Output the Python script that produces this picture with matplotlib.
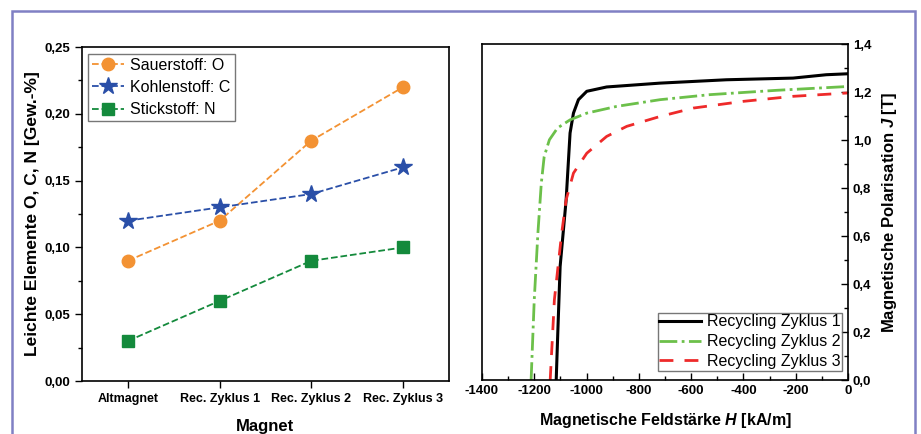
import numpy as np
import matplotlib
matplotlib.use("Agg")
import matplotlib.pyplot as plt
from matplotlib.ticker import FuncFormatter, MultipleLocator
from matplotlib.patches import Rectangle

plt.rcParams['font.family'] = ['Liberation Sans', 'DejaVu Sans']
plt.rcParams['mathtext.fontset'] = 'custom'
plt.rcParams['mathtext.it'] = 'Liberation Sans:italic:bold'
plt.rcParams['mathtext.rm'] = 'Liberation Sans:bold'
plt.rcParams['axes.unicode_minus'] = False

# ---- left panel data ----
magnets = ["Altmagnet", "Rec. Zyklus 1", "Rec. Zyklus 2", "Rec. Zyklus 3"]
sauerstoff = [0.09, 0.12, 0.18, 0.22]
kohlenstoff = [0.12, 0.13, 0.14, 0.16]
stickstoff = [0.03, 0.06, 0.09, 0.10]

# ---- right panel data (H in kA/m, J in T) ----
h_zyk1 = [-1116, -1110, -1101, -1078, -1063, -1050, -1031, -999, -923, -719, -465, -210, -83, 0]
j_zyk1 = [0.0, 0.195, 0.473, 0.751, 1.029, 1.112, 1.168, 1.203, 1.221, 1.237, 1.251, 1.258, 1.272, 1.276]

h_zyk2 = [-1212, -1200, -1186, -1173, -1162, -1142, -1111, -1063, -999, -885, -719, -528, -274, 0]
j_zyk2 = [0.0, 0.334, 0.612, 0.820, 0.931, 1.001, 1.050, 1.084, 1.112, 1.140, 1.168, 1.189, 1.207, 1.223]

h_zyk3 = [-1139, -1123, -1095, -1078, -1050, -999, -923, -846, -719, -592, -401, -210, 0]
j_zyk3 = [0.0, 0.334, 0.612, 0.751, 0.862, 0.945, 1.015, 1.057, 1.098, 1.133, 1.161, 1.182, 1.196]

comma = FuncFormatter(lambda v, p: f"{v:.2f}".replace(".", ","))
comma1 = FuncFormatter(lambda v, p: f"{v:.1f}".replace(".", ","))

fig = plt.figure(figsize=(9.21, 4.34), dpi=100)

# light frame around the whole figure
fig.patches.append(Rectangle((12 / 921, -0.05), 903 / 921, 1.05 - 11 / 434,
                             transform=fig.transFigure, fill=False,
                             edgecolor="#8080c4", linewidth=1.8))

# ============ left: light elements ============
ax1 = fig.add_axes([0.089, 0.122, 0.3985, 0.7696])
x = np.arange(len(magnets))
ax1.plot(x, sauerstoff, "--o", color="#f39233", ms=9, lw=1.3, label="Sauerstoff: O")
ax1.plot(x, kohlenstoff, "--*", color="#2a4fa8", ms=13, lw=1.3, label="Kohlenstoff: C")
ax1.plot(x, stickstoff, "--s", color="#148a3c", ms=8, lw=1.3, label="Stickstoff: N")
ax1.set_xlim(-0.5, 3.5)
ax1.set_ylim(0, 0.25)
ax1.set_xticks(x)
ax1.set_xticklabels(magnets, fontweight="bold", fontsize=9)
ax1.yaxis.set_major_locator(MultipleLocator(0.05))
ax1.yaxis.set_minor_locator(MultipleLocator(0.025))
ax1.yaxis.set_major_formatter(comma)
for lab in ax1.get_yticklabels():
    lab.set_fontweight("bold")
    lab.set_fontsize(9.5)
ax1.tick_params(direction="out", length=5, width=1)
ax1.tick_params(which="minor", direction="out", length=3, width=1)
ax1.set_xlabel("Magnet", fontweight="bold", fontsize=12, labelpad=10)
ax1.set_ylabel("Leichte Elemente O, C, N [Gew.-%]", fontweight="bold", fontsize=12.5, labelpad=3)
for s in ax1.spines.values():
    s.set_linewidth(1.2)
leg1 = ax1.legend(loc="upper left", fontsize=11.5, fancybox=False, edgecolor="#555555",
                  handlelength=2.0, borderpad=0.25, labelspacing=0.45, handletextpad=0.4,
                  borderaxespad=0.0, bbox_to_anchor=(0.016, 0.98))
leg1.get_frame().set_linewidth(1.0)

# ============ right: demagnetisation curves ============
ax2 = fig.add_axes([0.5233, 0.1244, 0.3974, 0.7742])
ax2.plot(h_zyk1, j_zyk1, "-", color="black", lw=2.2, label="Recycling Zyklus 1")
ax2.plot(h_zyk2, j_zyk2, "-.", color="#6cc04a", lw=2.0, label="Recycling Zyklus 2")
ax2.plot(h_zyk3, j_zyk3, "--", color="#ee2a2a", lw=2.0, dashes=(5, 4), label="Recycling Zyklus 3")
ax2.set_xlim(-1400, 0)
ax2.set_ylim(0, 1.4)
ax2.xaxis.set_major_locator(MultipleLocator(200))
ax2.xaxis.set_minor_locator(MultipleLocator(100))
ax2.yaxis.set_major_locator(MultipleLocator(0.2))
ax2.yaxis.set_minor_locator(MultipleLocator(0.1))
ax2.yaxis.set_major_formatter(comma1)
ax2.yaxis.tick_right()
ax2.yaxis.set_label_position("right")
ax2.tick_params(direction="in", length=5, width=1, labelsize=9.5)
ax2.tick_params(which="minor", direction="in", length=3, width=1)
for lab in ax2.get_xticklabels() + ax2.get_yticklabels():
    lab.set_fontweight("bold")
ax2.set_xlabel("Magnetische Feldstärke $H$ [kA/m]", fontweight="bold", fontsize=11.5, labelpad=10)
ax2.set_ylabel("Magnetische Polarisation $J$ [T]", fontweight="bold", fontsize=12, labelpad=6)
for s in ax2.spines.values():
    s.set_linewidth(1.2)
leg2 = ax2.legend(loc="lower right", fontsize=11.5, fancybox=False, edgecolor="#555555",
                  handlelength=2.6, borderpad=0.1, labelspacing=0.3, handletextpad=0.4,
                  borderaxespad=0.0, bbox_to_anchor=(0.985, 0.028))
leg2.get_frame().set_linewidth(1.0)

plt.savefig("out.png", dpi=100)
